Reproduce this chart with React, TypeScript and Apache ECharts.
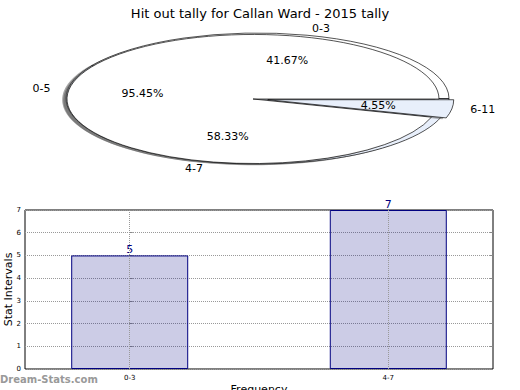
import React, { useEffect, useRef } from "react";
import * as echarts from "echarts";

const chartTitle = "Hit out tally for Callan Ward - 2015 tally";
const outerLabels = ["0-3", "4-7"];
const outerValues = [5, 7];
const outerExplode = [0, 0];
const innerLabels = ["0-5", "6-11"];
const innerValues = [21, 1];
const innerExplode = [0, 0.08];
const pieColors = ["#ffffff", "#e8effb"];
const barCategories = ["0-3", "4-7"];
const barValues = [5, 7];
const yTickMax = 7;

const FONT = "DejaVu Sans";

type Geom = { cx: number; cy: number; rx: number; ry: number };
const outerGeom: Geom = { cx: 257.5, cy: 98.5, rx: 191.5, ry: 65.5 };
const innerGeom: Geom = { cx: 253, cy: 99, rx: 186, ry: 64.5 };

function wedgeInfo(values: number[], explode: number[], g: Geom) {
  const total = values.reduce((a, b) => a + b, 0);
  let acc = 0;
  return values.map((v, i) => {
    const t1 = (acc / total) * 360;
    acc += v;
    const t2 = (acc / total) * 360;
    const tm = (((t1 + t2) / 2) * Math.PI) / 180;
    const ox = g.cx + explode[i] * g.rx * Math.cos(tm);
    const oy = g.cy - explode[i] * g.ry * Math.sin(tm);
    return { t1, t2, tm, ox, oy, pct: (v / total) * 100 };
  });
}

function pieLayer(
  kind: "shadow" | "wedge" | "label",
  values: number[],
  explode: number[],
  labels: string[],
  g: Geom,
  z: number
) {
  const w = wedgeInfo(values, explode, g);
  const rad = Math.PI / 180;
  return {
    type: "custom",
    coordinateSystem: "none",
    silent: true,
    z,
    data: values.map((v) => [v]),
    renderItem: (params: any) => {
      const i = params.dataIndex;
      const s = w[i];
      if (kind === "label") {
        const c = Math.cos(s.tm);
        const sn = Math.sin(s.tm);
        return {
          type: "group",
          children: [
            {
              type: "text",
              x: s.ox + 1.1 * g.rx * c,
              y: s.oy - 1.1 * g.ry * sn,
              style: {
                text: labels[i],
                fill: "#000",
                fontSize: 11,
                fontFamily: FONT,
                align: c > 0 ? "left" : "right",
                verticalAlign: "middle",
              },
            },
            {
              type: "text",
              x: s.ox + 0.6 * g.rx * c,
              y: s.oy - 0.6 * g.ry * sn,
              style: {
                text: s.pct.toFixed(2) + "%",
                fill: "#000",
                fontSize: 11,
                fontFamily: FONT,
                align: "center",
                verticalAlign: "middle",
              },
            },
          ],
        };
      }
      const isShadow = kind === "shadow";
      const dx = isShadow ? -0.02 * g.rx : 0;
      const dy = isShadow ? 0.02 * g.ry : 0;
      return {
        type: "group",
        x: s.ox + dx,
        y: s.oy + dy,
        scaleY: g.ry / g.rx,
        children: [
          {
            type: "sector",
            shape: {
              cx: 0,
              cy: 0,
              r: g.rx,
              r0: 0,
              startAngle: -s.t2 * rad,
              endAngle: -s.t1 * rad,
              clockwise: true,
            },
            style: isShadow
              ? { fill: "rgba(77,77,77,0.5)", stroke: "none" }
              : {
                  fill: pieColors[i % 2],
                  stroke: "#000",
                  lineWidth: 1,
                  strokeNoScale: true,
                },
          },
        ],
      };
    },
  };
}

export default function App() {
  const ref = useRef<HTMLDivElement>(null);
  useEffect(() => {
    document.body.style.margin = "0";
    if (!ref.current) return;
    const chart = echarts.init(ref.current, undefined, { renderer: "svg" });
    const option: any = {
      animation: false,
      backgroundColor: "#fff",
      textStyle: { fontFamily: FONT },
      title: {
        text: chartTitle,
        left: "center",
        top: 2,
        textStyle: { fontSize: 13, fontWeight: "normal", color: "#000", fontFamily: FONT },
      },
      grid: {
        left: 25,
        right: 27,
        top: 210,
        bottom: 21,
        containLabel: false,
        outerBoundsMode: "none",
        show: true,
        borderColor: "#000",
        borderWidth: 1,
        backgroundColor: "transparent",
      },
      xAxis: {
        type: "value",
        min: -0.405,
        max: 1.405,
        splitLine: { show: false },
        axisLine: { show: false },
        axisTick: { show: false },
        axisLabel: {
          customValues: [0, 1],
          formatter: (v: number) => barCategories[Math.round(v)] ?? "",
          fontSize: 7,
          color: "#000",
          margin: 5,
          fontFamily: FONT,
        },
        name: "Frequency",
        nameLocation: "middle",
        nameGap: 15,
        nameMoveOverlap: false,
        nameTextStyle: { fontSize: 11, color: "#000", fontFamily: FONT },
      },
      yAxis: [
        {
          type: "value",
          min: 0,
          max: yTickMax,
          interval: 1,
          axisLine: { show: false },
          axisTick: { show: true, inside: true, length: 3, lineStyle: { color: "#888" } },
          axisLabel: { fontSize: 7, color: "#000", margin: 4, fontFamily: FONT },
          splitLine: { show: true, lineStyle: { type: "dotted", color: "#999", width: 1 } },
          name: "Stat Intervals",
          nameLocation: "middle",
          nameGap: 11,
          nameMoveOverlap: false,
          nameTextStyle: { fontSize: 11, color: "#000", fontFamily: FONT },
        },
        {
          type: "value",
          position: "right",
          min: 0,
          max: yTickMax,
          interval: 1,
          axisLine: { show: false },
          axisTick: { show: true, inside: true, length: 3, lineStyle: { color: "#888" } },
          axisLabel: { show: false },
          splitLine: { show: false },
        },
      ],
      graphic: [
        {
          type: "text",
          left: 0,
          top: 374,
          style: {
            text: "Dream-Stats.com",
            fill: "#999",
            fontSize: 10,
            fontWeight: "bold",
            fontFamily: FONT,
          },
        },
      ],
      series: [
        pieLayer("shadow", outerValues, outerExplode, outerLabels, outerGeom, 2),
        pieLayer("wedge", outerValues, outerExplode, outerLabels, outerGeom, 3),
        pieLayer("shadow", innerValues, innerExplode, innerLabels, innerGeom, 4),
        pieLayer("wedge", innerValues, innerExplode, innerLabels, innerGeom, 5),
        pieLayer("label", outerValues, outerExplode, outerLabels, outerGeom, 6),
        pieLayer("label", innerValues, innerExplode, innerLabels, innerGeom, 6),
        {
          type: "bar",
          xAxisIndex: 0,
          yAxisIndex: 0,
          data: barValues.map((v, i) => [i, v]),
          barWidth: 117,
          itemStyle: {
            color: "rgba(0,0,128,0.2)",
            borderColor: "#000080",
            borderWidth: 1,
          },
          label: {
            show: true,
            position: "top",
            distance: 0,
            color: "#000080",
            fontSize: 11,
            fontFamily: FONT,
          },
          markLine: {
            silent: true,
            symbol: "none",
            label: { show: false },
            lineStyle: { type: "dotted", color: "#999", width: 1 },
            data: barCategories.map((_, i) => ({ xAxis: i })),
          },
        },
      ],
    };
    chart.setOption(option);
    return () => chart.dispose();
  }, []);
  return <div ref={ref} style={{ width: 520, height: 390 }} />;
}
